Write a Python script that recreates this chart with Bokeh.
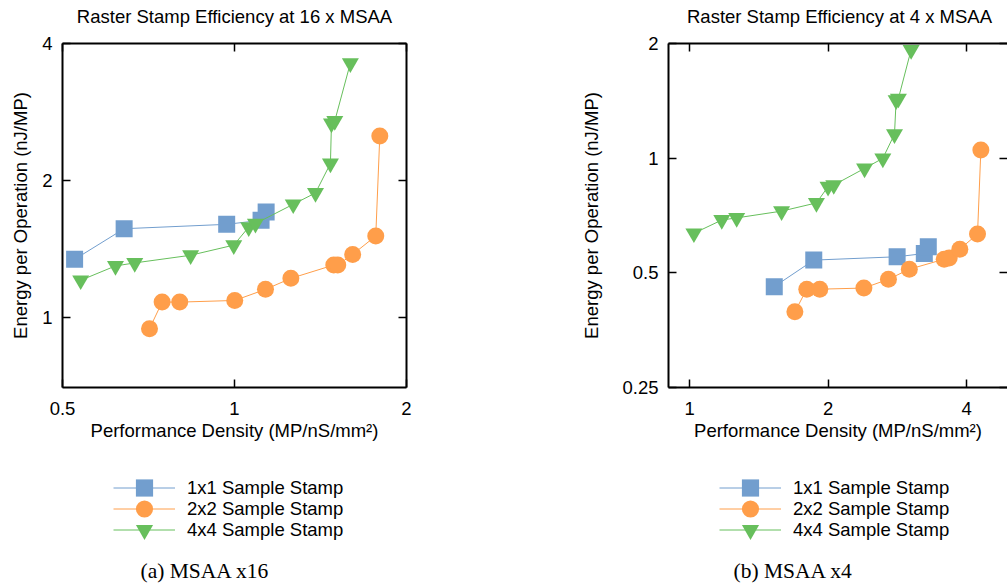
from bokeh.plotting import figure
from bokeh.layouts import row, column
from bokeh.models import (Range1d, FixedTicker, LogAxis, Legend, LegendItem, Label,
                          CustomJSTickFormatter)
from bokeh.embed import file_html
from bokeh.resources import INLINE

# ---------------- data: (a) MSAA x16 ----------------
a_1x1_x = [0.525, 0.641, 0.969, 1.113, 1.136]
a_1x1_y = [1.34, 1.565, 1.600, 1.633, 1.703]
a_2x2_x = [0.710, 0.747, 0.802, 1.001, 1.133, 1.255, 1.492, 1.516, 1.610, 1.767, 1.796]
a_2x2_y = [0.943, 1.079, 1.079, 1.088, 1.151, 1.217, 1.302, 1.302, 1.374, 1.508, 2.504]
a_4x4_x = [0.538, 0.619, 0.669, 0.838, 0.997, 1.059, 1.088, 1.267, 1.386, 1.472, 1.478, 1.498, 1.595]
a_4x4_y = [1.205, 1.296, 1.316, 1.368, 1.440, 1.578, 1.606, 1.771, 1.876, 2.178, 2.667, 2.703, 3.62]

# ---------------- data: (b) MSAA x4 ----------------
b_1x1_x = [1.528, 1.862, 2.826, 3.238, 3.303]
b_1x1_y = [0.460, 0.540, 0.551, 0.562, 0.585]
b_2x2_x = [1.694, 1.798, 1.919, 2.393, 2.706, 3.004, 3.577, 3.667, 3.868, 4.226, 4.297]
b_2x2_y = [0.395, 0.453, 0.453, 0.456, 0.481, 0.511, 0.543, 0.547, 0.577, 0.632, 1.05]
b_4x4_x = [1.022, 1.175, 1.266, 1.585, 1.887, 2.0, 2.058, 2.401, 2.631, 2.789, 2.812, 2.844, 3.031]
b_4x4_y = [0.635, 0.688, 0.697, 0.726, 0.763, 0.842, 0.850, 0.940, 0.999, 1.156, 1.420, 1.434, 1.925]

series_names = ["1x1 Sample Stamp", "2x2 Sample Stamp", "4x4 Sample Stamp"]
a_xticks = [0.5, 1, 2]
a_yticks = [1, 2, 4]
b_xticks = [1, 2, 4]
b_yticks = [0.25, 0.5, 1, 2]

FONT = "Liberation Sans"
SERIF = "Liberation Serif"
FS = "18.5px"
COLORS = ["#729ECE", "#FF9E4A", "#67BF5C"]
MARKERS = ["square", "circle", "inverted_triangle"]
FMT = CustomJSTickFormatter(code="return String(tick)")
NOFMT = CustomJSTickFormatter(code="return ''")

TITLE_H = 30
MAIN_H = 430          # frame top at page y 43, bottom at 387
LEG_H = 586 - TITLE_H - MAIN_H


def style_axis(ax, ticks, show_labels=True, line=True):
    ax.ticker = FixedTicker(ticks=ticks)
    ax.formatter = FMT if show_labels else NOFMT
    ax.major_tick_in = 8
    ax.major_tick_out = 0
    ax.minor_tick_in = 0
    ax.minor_tick_out = 0
    ax.major_tick_line_color = "black"
    ax.major_tick_line_width = 1.5
    ax.axis_line_color = "black" if line else None
    ax.axis_line_width = 2
    ax.major_label_text_font = FONT
    ax.major_label_text_color = "black"
    ax.major_label_text_font_size = FS
    if not show_labels:
        ax.major_label_standoff = 0
    ax.axis_label_text_font = FONT
    ax.axis_label_text_font_size = FS
    ax.axis_label_text_font_style = "normal"
    ax.axis_label_text_color = "black"


def blank(width, height):
    q = figure(width=width, height=height, x_range=Range1d(100, 101), y_range=Range1d(100, 101),
               output_backend="svg", toolbar_location=None, title=None,
               x_axis_location=None, y_axis_location=None,
               min_border=0, min_border_left=0, min_border_right=0,
               min_border_top=0, min_border_bottom=0)
    q.xgrid.grid_line_color = None
    q.ygrid.grid_line_color = None
    q.outline_line_color = None
    q.background_fill_color = "white"
    q.border_fill_color = "white"
    return q


def title_block(width, text, cx):
    t = blank(width, TITLE_H)
    t.add_layout(Label(x=cx, y=TITLE_H - 15.5, x_units="screen", y_units="screen", text=text,
                       text_font=FONT, text_font_size=FS, text_align="center",
                       text_baseline="middle", text_color="black"))
    return t


def panel(xs, ys, xr, yr, xticks, yticks, width, mbl, mbr, right_line, ylab_standoff):
    p = figure(width=width, height=MAIN_H, x_axis_type="log", y_axis_type="log",
               x_range=Range1d(*xr), y_range=Range1d(*yr),
               output_backend="svg", toolbar_location=None, title=None,
               min_border_left=mbl, min_border_right=mbr,
               min_border_top=43 - TITLE_H, min_border_bottom=MAIN_H - (387 - TITLE_H))
    p.xgrid.grid_line_color = None
    p.ygrid.grid_line_color = None
    p.outline_line_color = None
    p.background_fill_color = "white"
    p.border_fill_color = "white"

    style_axis(p.xaxis[0], xticks)
    p.xaxis[0].major_label_standoff = 14
    p.xaxis[0].axis_label = "Performance Density (MP/nS/mm\u00b2)"
    p.xaxis[0].axis_label_standoff = 2
    style_axis(p.yaxis[0], yticks)
    p.yaxis[0].major_label_standoff = 10
    p.yaxis[0].axis_label = "Energy per Operation (nJ/MP)"
    p.yaxis[0].axis_label_standoff = ylab_standoff

    top = LogAxis()
    style_axis(top, xticks, show_labels=False)
    p.add_layout(top, "above")
    right = LogAxis()
    style_axis(right, yticks, show_labels=False, line=right_line)
    p.add_layout(right, "right")

    for x, y, c, m in zip(xs, ys, COLORS, MARKERS):
        p.line(x, y, line_color=c, line_width=1)
        p.scatter(x, y, marker=m, size=17, fill_color=c, line_color=None)
    return p


def legend_block(width, xs, ys, leg_x, caption, cap_x):
    q = blank(width, LEG_H)
    row_tops = [466, 487, 508]   # page y of the top of each legend row box
    for x, y, c, m, name, top in zip(xs, ys, COLORS, MARKERS, series_names, row_tops):
        # off-range copies of the series, used only as legend glyph sources
        lr = q.line(x, y, line_color=c, line_width=1)
        sr = q.scatter(x, y, marker=m, size=17, fill_color=c, line_color=None)
        leg = Legend(items=[LegendItem(label=name, renderers=[lr, sr])],
                     location=(leg_x, 586 - 43 - top), orientation="vertical",
                     glyph_width=62, glyph_height=43, spacing=0, padding=0, margin=0,
                     label_standoff=12, label_text_font=FONT, label_text_font_size=FS,
                     label_text_color="black", border_line_color=None,
                     background_fill_alpha=0)
        q.add_layout(leg, "center")
    cap = Label(x=cap_x, y=586 - 570, x_units="screen", y_units="screen", text=caption,
                text_font=SERIF, text_font_size="21.5px", text_align="left",
                text_baseline="middle", text_color="black")
    q.add_layout(cap)
    return q


W1 = 578
W2 = 1007 - W1
ta = title_block(W1, "Raster Stamp Efficiency at 16 x MSAA", 172)
tb = title_block(W2, "Raster Stamp Efficiency at 4 x MSAA", 171)
pa = panel([a_1x1_x, a_2x2_x, a_4x4_x], [a_1x1_y, a_2x2_y, a_4x4_y],
           (0.5, 2), (0.7, 4), a_xticks, a_yticks,
           W1, 62, W1 - 406, True, 8)
pb = panel([b_1x1_x, b_2x2_x, b_4x4_x], [b_1x1_y, b_2x2_y, b_4x4_y],
           (0.9, 4.91), (0.25, 2), b_xticks, b_yticks,
           W2, 667 - W1, 0, False, 17)
la = legend_block(W1, [a_1x1_x, a_2x2_x, a_4x4_x], [a_1x1_y, a_2x2_y, a_4x4_y],
                  51, "(a) MSAA x16", 78)
lb = legend_block(W2, [b_1x1_x, b_2x2_x, b_4x4_x], [b_1x1_y, b_2x2_y, b_4x4_y],
                  51, "(b) MSAA x4", 65)

layout = row(column(ta, pa, la), column(tb, pb, lb))
open("out.html", "w").write(file_html(layout, INLINE))
